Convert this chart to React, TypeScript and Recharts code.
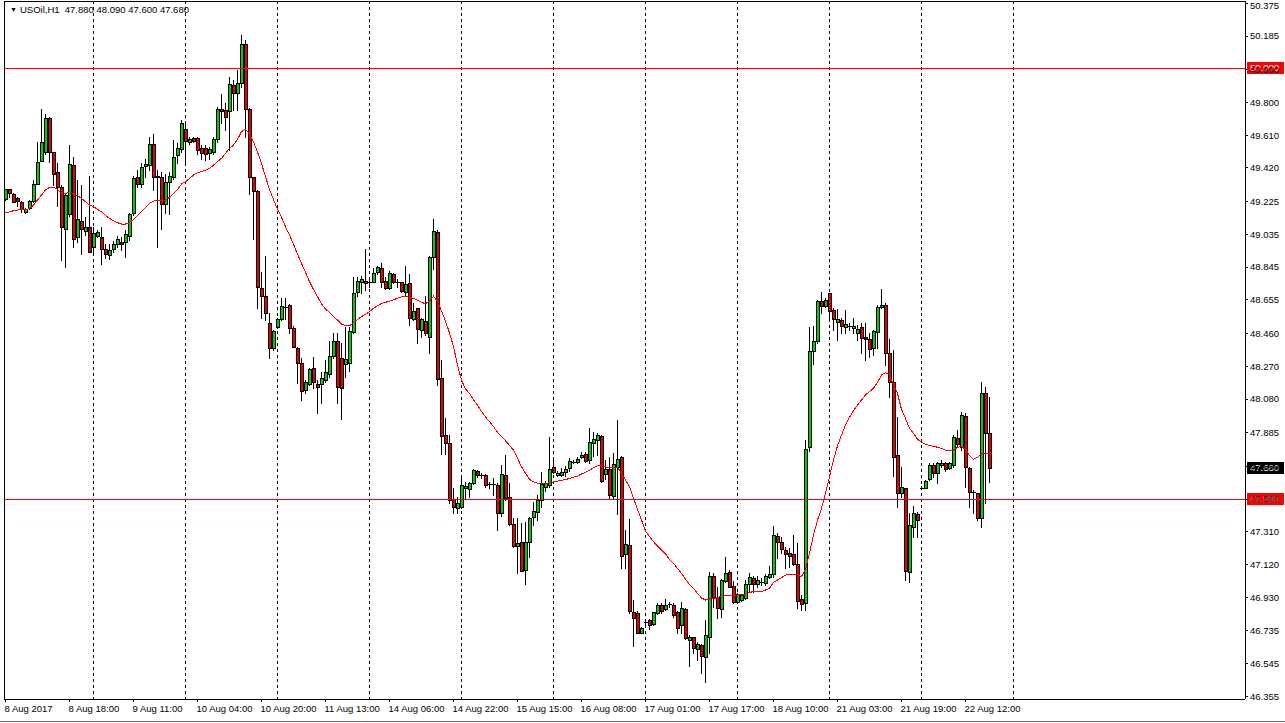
import React from 'react';
import { ComposedChart, Bar, Line, XAxis, YAxis, CartesianGrid, ReferenceLine } from 'recharts';

// USOil H1, 8 Aug 2017 -> 22 Aug 2017
const opens = [
  49.240, 49.300, 49.272, 49.247, 49.220, 49.162, 49.189, 49.226, 49.330, 49.462,
  49.510, 49.708, 49.510, 49.394, 49.311, 49.064, 49.151, 49.437, 49.017, 49.114,
  49.056, 49.075, 48.963, 49.027, 49.017, 48.953, 48.913, 48.952, 48.982, 48.992,
  48.992, 49.025, 49.160, 49.369, 49.327, 49.433, 49.439, 49.557, 49.365, 49.365,
  49.211, 49.336, 49.369, 49.495, 49.532, 49.644, 49.568, 49.592, 49.592, 49.534,
  49.534, 49.508, 49.510, 49.586, 49.762, 49.756, 49.752, 49.901, 49.853, 49.911,
  50.139, 49.762, 49.369, 49.287, 48.722, 48.677, 48.519, 48.374, 48.500, 48.542,
  48.612, 48.623, 48.490, 48.374, 48.291, 48.132, 48.165, 48.258, 48.167, 48.165,
  48.190, 48.223, 48.329, 48.416, 48.316, 48.283, 48.287, 48.471, 48.703, 48.757,
  48.766, 48.761, 48.761, 48.815, 48.842, 48.765, 48.722, 48.803, 48.757, 48.757,
  48.699, 48.751, 48.542, 48.606, 48.480, 48.532, 48.438, 48.906, 49.051, 48.200,
  47.871, 47.827, 47.498, 47.446, 47.452, 47.562, 47.556, 47.595, 47.662, 47.639,
  47.639, 47.587, 47.587, 47.581, 47.421, 47.639, 47.510, 47.355, 47.227, 47.249,
  47.088, 47.253, 47.394, 47.426, 47.494, 47.571, 47.581, 47.684, 47.639, 47.639,
  47.655, 47.678, 47.716, 47.716, 47.742, 47.761, 47.726, 47.823, 47.842, 47.865,
  47.643, 47.672, 47.517, 47.687, 47.745, 47.179, 47.233, 46.843, 46.841, 46.725,
  46.788, 46.798, 46.773, 46.837, 46.885, 46.860, 46.891, 46.885, 46.846, 46.769,
  46.862, 46.682, 46.698, 46.632, 46.651, 46.585, 46.701, 47.055, 46.933, 46.860,
  47.026, 47.076, 46.997, 46.904, 46.914, 46.924, 47.007, 47.040, 47.007, 47.020,
  47.011, 47.046, 47.065, 47.285, 47.251, 47.204, 47.187, 47.181, 47.123, 46.918,
  46.895, 47.800, 48.358, 48.418, 48.648, 48.619, 48.693, 48.596, 48.529, 48.538,
  48.500, 48.503, 48.490, 48.465, 48.500, 48.442, 48.426, 48.378, 48.467, 48.612,
  48.625, 48.345, 48.181, 47.755, 47.533, 47.562, 47.079, 47.340, 47.411, 47.566,
  47.566, 47.614, 47.697, 47.649, 47.695, 47.711, 47.678, 47.695, 47.852, 47.804,
  47.981, 47.682, 47.539, 47.533, 47.388, 48.117, 47.880,
];

const highs = [
  49.300, 49.300, 49.275, 49.253, 49.228, 49.190, 49.235, 49.350, 49.570, 49.762,
  49.731, 49.715, 49.515, 49.450, 49.320, 49.270, 49.553, 49.485, 49.350, 49.321,
  49.137, 49.375, 49.075, 49.060, 49.075, 48.982, 48.982, 48.998, 49.027, 49.021,
  49.060, 49.160, 49.373, 49.408, 49.450, 49.475, 49.597, 49.617, 49.408, 49.398,
  49.388, 49.398, 49.582, 49.563, 49.698, 49.679, 49.601, 49.600, 49.601, 49.553,
  49.553, 49.543, 49.597, 49.772, 49.849, 49.795, 49.950, 49.930, 49.988, 50.191,
  50.162, 49.770, 49.370, 49.290, 48.818, 48.910, 48.577, 48.480, 48.550, 48.664,
  48.664, 48.630, 48.505, 48.380, 48.316, 48.190, 48.260, 48.322, 48.190, 48.239,
  48.306, 48.416, 48.461, 48.461, 48.403, 48.500, 48.500, 48.790, 48.790, 48.794,
  48.948, 48.790, 48.838, 48.852, 48.867, 48.790, 48.824, 48.813, 48.774, 48.760,
  48.852, 48.803, 48.635, 48.610, 48.550, 48.679, 48.910, 49.122, 49.060, 48.306,
  47.968, 47.871, 47.562, 47.514, 47.639, 47.601, 47.601, 47.672, 47.668, 47.653,
  47.645, 47.601, 47.624, 47.590, 47.700, 47.755, 47.591, 47.388, 47.388, 47.359,
  47.369, 47.394, 47.484, 47.523, 47.655, 47.604, 47.862, 47.726, 47.660, 47.682,
  47.691, 47.740, 47.726, 47.745, 47.775, 47.775, 47.910, 47.891, 47.881, 47.871,
  47.726, 47.745, 47.765, 47.958, 47.751, 47.320, 47.384, 46.914, 46.850, 46.759,
  46.798, 46.802, 46.846, 46.895, 46.895, 46.918, 46.904, 46.895, 46.852, 46.904,
  46.866, 46.711, 46.701, 46.672, 46.659, 46.798, 47.078, 47.069, 46.991, 47.034,
  47.165, 47.088, 47.026, 46.953, 46.950, 47.030, 47.069, 47.053, 47.053, 47.040,
  47.065, 47.111, 47.345, 47.301, 47.281, 47.224, 47.214, 47.291, 47.243, 46.943,
  47.842, 48.500, 48.503, 48.654, 48.703, 48.664, 48.697, 48.606, 48.600, 48.548,
  48.596, 48.523, 48.548, 48.509, 48.519, 48.519, 48.461, 48.480, 48.625, 48.716,
  48.635, 48.426, 48.364, 47.978, 47.688, 47.562, 47.417, 47.459, 47.427, 47.575,
  47.610, 47.707, 47.707, 47.717, 47.726, 47.717, 47.717, 47.871, 47.900, 48.007,
  47.997, 47.688, 47.552, 47.533, 48.181, 48.148, 48.090,
];

const lows = [
  49.235, 49.253, 49.220, 49.199, 49.166, 49.157, 49.185, 49.220, 49.325, 49.460,
  49.500, 49.456, 49.321, 49.201, 48.886, 48.843, 49.140, 48.963, 48.988, 48.921,
  49.031, 48.930, 48.924, 49.020, 48.866, 48.896, 48.890, 48.934, 48.963, 48.944,
  48.901, 49.002, 49.147, 49.311, 49.311, 49.369, 49.408, 49.292, 48.963, 49.064,
  49.157, 49.151, 49.359, 49.450, 49.514, 49.456, 49.557, 49.570, 49.504, 49.475,
  49.466, 49.475, 49.504, 49.572, 49.679, 49.640, 49.524, 49.756, 49.756, 49.892,
  49.600, 49.272, 49.010, 48.610, 48.548, 48.538, 48.320, 48.364, 48.490, 48.540,
  48.542, 48.461, 48.380, 48.175, 48.074, 48.113, 48.160, 48.142, 47.997, 48.059,
  48.180, 48.210, 48.320, 48.059, 47.962, 48.210, 48.242, 48.461, 48.677, 48.693,
  48.712, 48.732, 48.757, 48.803, 48.732, 48.720, 48.720, 48.751, 48.732, 48.703,
  48.683, 48.509, 48.538, 48.407, 48.442, 48.451, 48.349, 48.832, 48.161, 47.761,
  47.761, 47.479, 47.417, 47.421, 47.446, 47.504, 47.510, 47.587, 47.630, 47.620,
  47.572, 47.562, 47.523, 47.320, 47.400, 47.494, 47.350, 47.223, 47.073, 47.080,
  47.007, 47.165, 47.349, 47.378, 47.452, 47.546, 47.571, 47.649, 47.635, 47.633,
  47.633, 47.662, 47.707, 47.707, 47.736, 47.716, 47.707, 47.749, 47.755, 47.600,
  47.614, 47.498, 47.504, 47.411, 47.098, 47.098, 46.837, 46.647, 46.720, 46.721,
  46.759, 46.744, 46.769, 46.831, 46.841, 46.856, 46.875, 46.818, 46.721, 46.721,
  46.686, 46.531, 46.605, 46.566, 46.489, 46.440, 46.605, 46.875, 46.808, 46.818,
  47.020, 46.988, 46.899, 46.899, 46.910, 46.920, 46.962, 46.962, 46.992, 47.001,
  47.001, 47.040, 47.050, 47.156, 47.185, 47.098, 47.108, 47.117, 46.866, 46.856,
  46.856, 47.780, 48.283, 48.403, 48.577, 48.612, 48.534, 48.480, 48.422, 48.461,
  48.461, 48.480, 48.461, 48.422, 48.349, 48.306, 48.322, 48.335, 48.374, 48.606,
  48.277, 48.094, 47.633, 47.455, 47.514, 47.030, 47.020, 47.281, 47.281, 47.556,
  47.562, 47.610, 47.630, 47.595, 47.688, 47.664, 47.672, 47.688, 47.804, 47.784,
  47.572, 47.455, 47.417, 47.378, 47.336, 47.479, 47.600,
];

const closes = [
  49.296, 49.276, 49.224, 49.230, 49.182, 49.185, 49.230, 49.330, 49.452, 49.568,
  49.708, 49.510, 49.388, 49.311, 49.075, 49.263, 49.441, 49.011, 49.127, 49.064,
  49.079, 48.934, 49.041, 49.048, 48.948, 48.924, 48.944, 48.977, 49.008, 48.977,
  49.037, 49.153, 49.363, 49.330, 49.425, 49.443, 49.557, 49.365, 49.375, 49.214,
  49.340, 49.375, 49.481, 49.534, 49.679, 49.576, 49.586, 49.576, 49.524, 49.508,
  49.504, 49.532, 49.588, 49.762, 49.752, 49.714, 49.905, 49.853, 49.913, 50.139,
  49.762, 49.369, 49.288, 48.732, 48.679, 48.577, 48.374, 48.476, 48.544, 48.619,
  48.612, 48.494, 48.384, 48.287, 48.128, 48.181, 48.252, 48.177, 48.152, 48.200,
  48.235, 48.329, 48.416, 48.152, 48.142, 48.312, 48.474, 48.693, 48.765, 48.776,
  48.751, 48.761, 48.809, 48.844, 48.757, 48.722, 48.809, 48.757, 48.757, 48.706,
  48.745, 48.548, 48.590, 48.484, 48.542, 48.461, 48.902, 49.056, 48.194, 47.865,
  47.823, 47.494, 47.452, 47.479, 47.581, 47.575, 47.595, 47.668, 47.639, 47.639,
  47.581, 47.587, 47.587, 47.417, 47.645, 47.508, 47.355, 47.227, 47.243, 47.084,
  47.249, 47.388, 47.430, 47.494, 47.585, 47.591, 47.672, 47.658, 47.649, 47.658,
  47.674, 47.720, 47.716, 47.732, 47.755, 47.722, 47.829, 47.848, 47.871, 47.604,
  47.672, 47.523, 47.703, 47.730, 47.169, 47.239, 46.852, 46.808, 46.721, 46.750,
  46.788, 46.771, 46.843, 46.885, 46.852, 46.885, 46.891, 46.827, 46.750, 46.866,
  46.692, 46.700, 46.634, 46.657, 46.589, 46.711, 47.055, 46.933, 46.866, 47.030,
  47.069, 46.991, 46.901, 46.947, 46.943, 47.007, 47.050, 47.007, 47.030, 47.020,
  47.053, 47.065, 47.289, 47.253, 47.208, 47.181, 47.169, 47.123, 46.910, 46.891,
  47.788, 48.358, 48.416, 48.648, 48.619, 48.654, 48.592, 48.542, 48.544, 48.503,
  48.515, 48.503, 48.503, 48.484, 48.432, 48.426, 48.370, 48.474, 48.616, 48.625,
  48.345, 48.181, 47.746, 47.533, 47.572, 47.084, 47.349, 47.417, 47.378, 47.566,
  47.604, 47.697, 47.653, 47.707, 47.711, 47.672, 47.707, 47.862, 47.817, 47.987,
  47.688, 47.543, 47.539, 47.388, 48.113, 47.885, 47.680,
];

// red moving average line as drawn on the chart
const maValues = [
  49.160, 49.166, 49.172, 49.176, 49.180, 49.180, 49.184, 49.205, 49.234, 49.263,
  49.292, 49.308, 49.308, 49.296, 49.272, 49.272, 49.282, 49.272, 49.259, 49.244,
  49.224, 49.205, 49.195, 49.180, 49.166, 49.143, 49.128, 49.114, 49.103, 49.095,
  49.095, 49.103, 49.122, 49.143, 49.166, 49.190, 49.215, 49.228, 49.230, 49.230,
  49.234, 49.250, 49.273, 49.296, 49.327, 49.340, 49.360, 49.379, 49.393, 49.399,
  49.408, 49.418, 49.437, 49.457, 49.476, 49.505, 49.534, 49.553, 49.586, 49.631,
  49.644, 49.617, 49.571, 49.513, 49.445, 49.370, 49.295, 49.237, 49.180, 49.134,
  49.080, 49.031, 48.977, 48.921, 48.867, 48.815, 48.761, 48.716, 48.674, 48.631,
  48.602, 48.581, 48.558, 48.538, 48.515, 48.505, 48.505, 48.523, 48.542, 48.558,
  48.571, 48.587, 48.606, 48.621, 48.635, 48.641, 48.648, 48.656, 48.664, 48.672,
  48.674, 48.670, 48.664, 48.652, 48.641, 48.633, 48.648, 48.677, 48.645, 48.592,
  48.532, 48.463, 48.384, 48.277, 48.190, 48.138, 48.113, 48.074, 48.045, 48.007,
  47.976, 47.949, 47.920, 47.887, 47.862, 47.838, 47.811, 47.784, 47.736, 47.687,
  47.649, 47.614, 47.599, 47.591, 47.587, 47.589, 47.595, 47.599, 47.604, 47.608,
  47.614, 47.618, 47.626, 47.633, 47.645, 47.655, 47.666, 47.682, 47.693, 47.693,
  47.687, 47.680, 47.686, 47.684, 47.649, 47.610, 47.571, 47.504, 47.440, 47.378,
  47.314, 47.282, 47.252, 47.227, 47.204, 47.181, 47.150, 47.127, 47.098, 47.069,
  47.034, 47.005, 46.982, 46.953, 46.926, 46.914, 46.920, 46.922, 46.928, 46.939,
  46.943, 46.943, 46.943, 46.943, 46.945, 46.949, 46.959, 46.962, 46.962, 46.964,
  46.972, 46.982, 47.017, 47.030, 47.044, 47.059, 47.061, 47.063, 47.059, 47.050,
  47.092, 47.185, 47.291, 47.378, 47.446, 47.533, 47.630, 47.726, 47.809, 47.871,
  47.929, 47.974, 48.012, 48.045, 48.074, 48.103, 48.123, 48.142, 48.177, 48.219,
  48.233, 48.219, 48.161, 48.113, 48.020, 47.968, 47.910, 47.881, 47.846, 47.829,
  47.817, 47.811, 47.806, 47.800, 47.794, 47.782, 47.780, 47.784, 47.800, 47.804,
  47.788, 47.753, 47.730, 47.742, 47.761, 47.765, 47.765,
];

const timeLabels = [
  '8 Aug 2017', '8 Aug 18:00', '9 Aug 11:00', '10 Aug 04:00', '10 Aug 20:00', '11 Aug 13:00',
  '14 Aug 06:00', '14 Aug 22:00', '15 Aug 15:00', '16 Aug 08:00', '17 Aug 01:00', '17 Aug 17:00',
  '18 Aug 10:00', '21 Aug 03:00', '21 Aug 19:00', '22 Aug 12:00',
];
const LABEL_STEP = 16; // one time label every 16 bars

const priceTicks = [
  50.375, 50.185, 49.990, 49.800, 49.610, 49.420, 49.225, 49.035, 48.845, 48.655, 48.460,
  48.270, 48.080, 47.885, 47.690, 47.500, 47.310, 47.120, 46.930, 46.735, 46.545, 46.355,
];

const SYMBOL = 'USOil,H1';
const LEVEL_HIGH = 50.0;
const LEVEL_LOW = 47.5;

// layout
const W = 1285;
const H = 723;
const PLOT_LEFT = 4;
const PLOT_RIGHT = 1245;
const PLOT_TOP = 1;
const PLOT_BOTTOM = 699;
const BAR_PX = 4;
const X_MIN = -0.375;
const X_MAX = X_MIN + (PLOT_RIGHT - PLOT_LEFT) / BAR_PX;
const PX_PER_UNIT = 172.4;
const Y_MAX = 50 + (68 - PLOT_TOP) / PX_PER_UNIT;
const Y_MIN = 50 - (PLOT_BOTTOM - 68) / PX_PER_UNIT;

const FONT = "Tahoma, 'Liberation Sans', Arial, sans-serif";
const BULL = '#00d000';
const BEAR = '#e80000';

const data = opens.map((o, i) => ({
  idx: i,
  open: o,
  high: highs[i],
  low: lows[i],
  close: closes[i],
  range: [lows[i], highs[i]],
  ma: maValues[i],
}));

const gridX = Array.from({ length: 11 }, (_, k) => 93.5 + 92 * k);
const labelTicks = timeLabels.map((_, k) => k * LABEL_STEP);

// wick + 4px body (1px black outline, 2px colour), pixel-snapped
function Candle(props: any) {
  const { x, y, width, height, payload } = props;
  if (x == null || y == null || !payload) return null;
  const { open, close, high, low } = payload;
  const left = Math.floor(x + width / 2) - 1;
  const k = high > low ? height / (high - low) : 0;
  const py = (p: number) => y + (high - p) * k;
  const top = Math.round(py(Math.max(open, close)));
  const bot = Math.round(py(Math.min(open, close)));
  const wTop = Math.round(y);
  const wBot = Math.round(y + height);
  return (
    <g>
      <rect x={left + 1} y={wTop} width={1} height={wBot - wTop + 1} fill="#000" />
      <rect x={left} y={top} width={4} height={bot - top + 1} fill="#000" />
      {bot - top >= 2 && (
        <rect x={left + 1} y={top + 1} width={2} height={bot - top - 1} fill={close >= open ? BULL : BEAR} />
      )}
    </g>
  );
}

function TimeTick(props: any) {
  const { x, payload } = props;
  const label = timeLabels[Math.round(payload.value / LABEL_STEP)];
  return (
    <text x={x - 1} y={PLOT_BOTTOM + 13} fontSize={9.5} fontFamily={FONT} fill="#000" textAnchor="start">
      {label}
    </text>
  );
}

function PriceTick(props: any) {
  const { y, payload } = props;
  return (
    <text
      x={PLOT_RIGHT + 5}
      y={Math.max(y, 6)}
      dy="0.35em"
      fontSize={9.5}
      fontFamily={FONT}
      fill="#000"
      textAnchor="start"
    >
      {payload.value.toFixed(3)}
    </text>
  );
}

function PriceTag(props: any) {
  const { viewBox, tagText, tagBg } = props;
  if (!viewBox) return null;
  const cy = Math.round(viewBox.y);
  const x0 = PLOT_RIGHT + 2;
  return (
    <g>
      <rect x={x0} y={cy - 6} width={37} height={12} fill={tagBg} />
      <text x={x0 + 3} y={cy} dy="0.35em" fontSize={9.5} fontFamily={FONT} fill="#fff">
        {tagText}
      </text>
    </g>
  );
}

export default function App() {
  const last = data[data.length - 1];
  return (
    <div
      style={{
        position: 'absolute',
        left: 0,
        top: 0,
        width: W,
        height: H,
        background: '#fff',
        shapeRendering: 'crispEdges',
        overflow: 'hidden',
      }}
    >
      <ComposedChart width={W} height={H} data={data} margin={{ top: PLOT_TOP, right: 0, bottom: 2, left: PLOT_LEFT }}>
        <CartesianGrid horizontal={false} verticalPoints={gridX} stroke="#000" strokeDasharray="3 3" />
        <XAxis
          dataKey="idx"
          type="number"
          domain={[X_MIN, X_MAX]}
          allowDataOverflow
          ticks={labelTicks}
          interval={0}
          tick={<TimeTick />}
          tickSize={3}
          tickLine={{ stroke: '#000' }}
          axisLine={{ stroke: '#000' }}
          height={22}
        />
        <YAxis
          orientation="right"
          type="number"
          domain={[Y_MIN, Y_MAX]}
          allowDataOverflow
          ticks={priceTicks}
          interval={0}
          tick={<PriceTick />}
          tickSize={3}
          tickLine={{ stroke: '#000' }}
          axisLine={{ stroke: '#000' }}
          width={W - PLOT_RIGHT}
        />
        <Bar dataKey="range" barSize={3} shape={<Candle />} isAnimationActive={false} />
        <Line
          dataKey="ma"
          type="linear"
          stroke="#ff0000"
          strokeWidth={1}
          dot={false}
          activeDot={false}
          isAnimationActive={false}
        />
        <ReferenceLine x={X_MIN} stroke="#000" />
        <ReferenceLine y={Y_MAX} stroke="#000" />
        <ReferenceLine
          y={LEVEL_HIGH}
          stroke="#ff0000"
          label={{ content: (p: any) => <PriceTag {...p} tagText={LEVEL_HIGH.toFixed(3)} tagBg="#ff0000" /> }}
        />
        <ReferenceLine
          y={LEVEL_LOW}
          stroke="#ff0000"
          label={{ content: (p: any) => <PriceTag {...p} tagText={LEVEL_LOW.toFixed(3)} tagBg="#ff0000" /> }}
        />
        <ReferenceLine
          y={last.close}
          stroke="none"
          strokeOpacity={0}
          label={{ content: (p: any) => <PriceTag {...p} tagText={last.close.toFixed(3)} tagBg="#000000" /> }}
        />
      </ComposedChart>
      <div
        style={{
          position: 'absolute',
          left: 10,
          top: 4,
          fontFamily: FONT,
          fontSize: 9.5,
          lineHeight: '11px',
          whiteSpace: 'pre',
          color: '#000',
        }}
      >
        <span style={{ fontSize: 7, verticalAlign: 'top', marginRight: 3 }}>▼</span>
        {`${SYMBOL}  ${last.open.toFixed(3)} ${last.high.toFixed(3)} ${last.low.toFixed(3)} ${last.close.toFixed(3)}`}
      </div>
      <div style={{ position: 'absolute', left: 0, top: 721, width: W, height: 1, background: '#707070' }} />
    </div>
  );
}
